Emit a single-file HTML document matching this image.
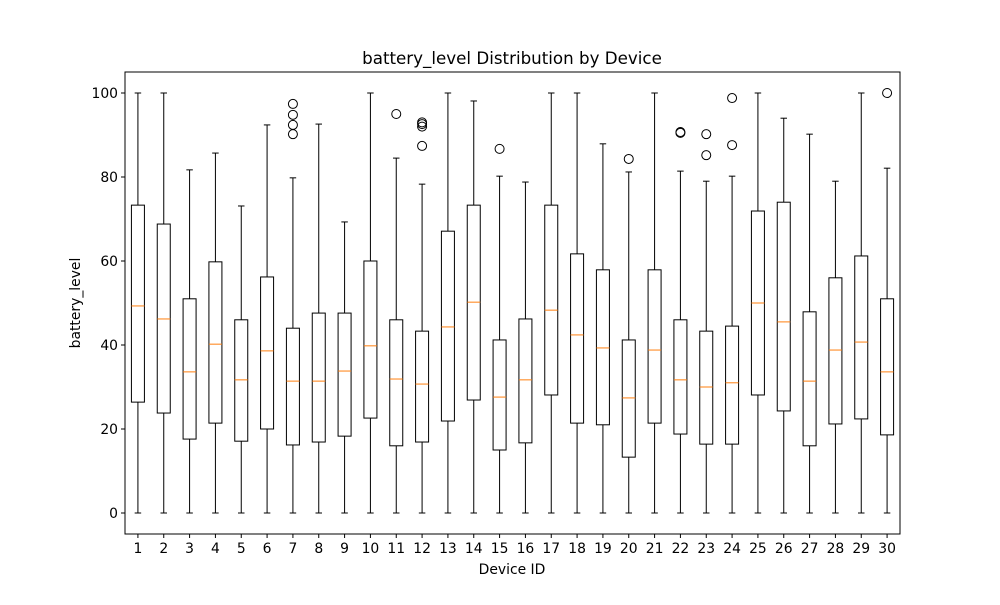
<!DOCTYPE html>
<html><head><meta charset="utf-8"><style>
body{margin:0;background:#fff}
svg{font-family:"DejaVu Sans","Liberation Sans",sans-serif}
</style></head><body>
<svg id="c" width="1000" height="600"></svg>
<script>
const devices=[1,2,3,4,5,6,7,8,9,10,11,12,13,14,15,16,17,18,19,20,21,22,23,24,25,26,27,28,29,30];
const whislo=[0,0,0,0,0,0,0,0,0,0,0,0,0,0,0,0,0,0,0,0,0,0,0,0,0,0,0,0,0,0];
const q1=[26.4,23.8,17.6,21.4,17.1,20,16.2,16.9,18.3,22.6,16,16.9,21.9,26.9,15,16.7,28.1,21.4,21,13.3,21.4,18.8,16.4,16.4,28.1,24.3,16,21.2,22.4,18.6];
const med=[49.3,46.2,33.6,40.2,31.7,38.6,31.4,31.4,33.8,39.8,31.9,30.7,44.3,50.2,27.6,31.7,48.3,42.4,39.3,27.4,38.8,31.7,30,31,50,45.5,31.4,38.8,40.7,33.6];
const q3=[73.3,68.8,51,59.8,46,56.2,44,47.6,47.6,60,46,43.3,67.1,73.3,41.2,46.2,73.3,61.7,57.9,41.2,57.9,46,43.3,44.5,71.9,74,47.9,56,61.2,51];
const whishi=[100,100,81.7,85.7,73.1,92.4,79.8,92.6,69.3,100,84.5,78.3,100,98.1,80.2,78.8,100,100,87.9,81.2,100,81.4,79,80.2,100,94,90.2,79,100,82.1];
const fliers=[[],[],[],[],[],[],[90.2,92.4,94.8,97.4],[],[],[],[95],[87.4,92,92.6,93],[],[],[86.7],[],[],[],[],[84.3],[],[90.5,90.7],[85.2,90.2],[87.6,98.8],[],[],[],[],[],[100]];
const yTicks=[0,20,40,60,80,100];

const NS="http://www.w3.org/2000/svg",svg=document.getElementById('c');
const L=125,R=900,T=72,B=534;
const X=i=>L+(R-L)/devices.length*(i+0.5);
const Y=v=>513-v*4.2;
function mk(t,a,p){const e=document.createElementNS(NS,t);for(const k in a)e.setAttribute(k,a[k]);(p||svg).appendChild(e);return e;}
function line(x1,y1,x2,y2,c,p){return mk('line',{x1,y1,x2,y2,stroke:c||'#000','stroke-width':1},p);}
function txt(s,x,y,a){const e=mk('text',Object.assign({x,y,'font-size':13.9,fill:'#000'},a||{}));e.textContent=s;return e;}

const t=txt('battery_level Distribution by Device',512,64,{'text-anchor':'middle','font-size':16.7});

const xl=txt('Device ID',512,574,{'text-anchor':'middle'});

const yl=txt('battery_level',80,303,{'text-anchor':'middle',transform:'rotate(-90 80 303)'});


yTicks.forEach(v=>{
  line(L-4,Y(v),L,Y(v));
  const e=txt(String(v),L-7,Y(v)+5,{'text-anchor':'end'});
  
});
const bw=13;
devices.forEach((d,i)=>{
  const x=X(i);
  const g=mk('g',{});
  
  line(x,B,x,B+4,'#000',g);
  const lab=txt(String(d),x,B+19,{'text-anchor':'middle'});
  
  line(x,Y(whislo[i]),x,Y(q1[i]),'#000',g);
  line(x,Y(q3[i]),x,Y(whishi[i]),'#000',g);
  line(x-bw/4,Y(whislo[i]),x+bw/4,Y(whislo[i]),'#000',g);
  line(x-bw/4,Y(whishi[i]),x+bw/4,Y(whishi[i]),'#000',g);
  mk('rect',{x:x-bw/2,y:Y(q3[i]),width:bw,height:Y(q1[i])-Y(q3[i]),fill:'none',stroke:'#000'},g);
  line(x-bw/2,Y(med[i]),x+bw/2,Y(med[i]),'#ff7f0e',g);
  fliers[i].forEach(v=>mk('circle',{cx:x,cy:Y(v),r:4.5,fill:'none',stroke:'#000'},g));
});
const fr=mk('rect',{x:L,y:T,width:R-L,height:B-T,fill:'none',stroke:'#000'});

</script>
</body></html>
